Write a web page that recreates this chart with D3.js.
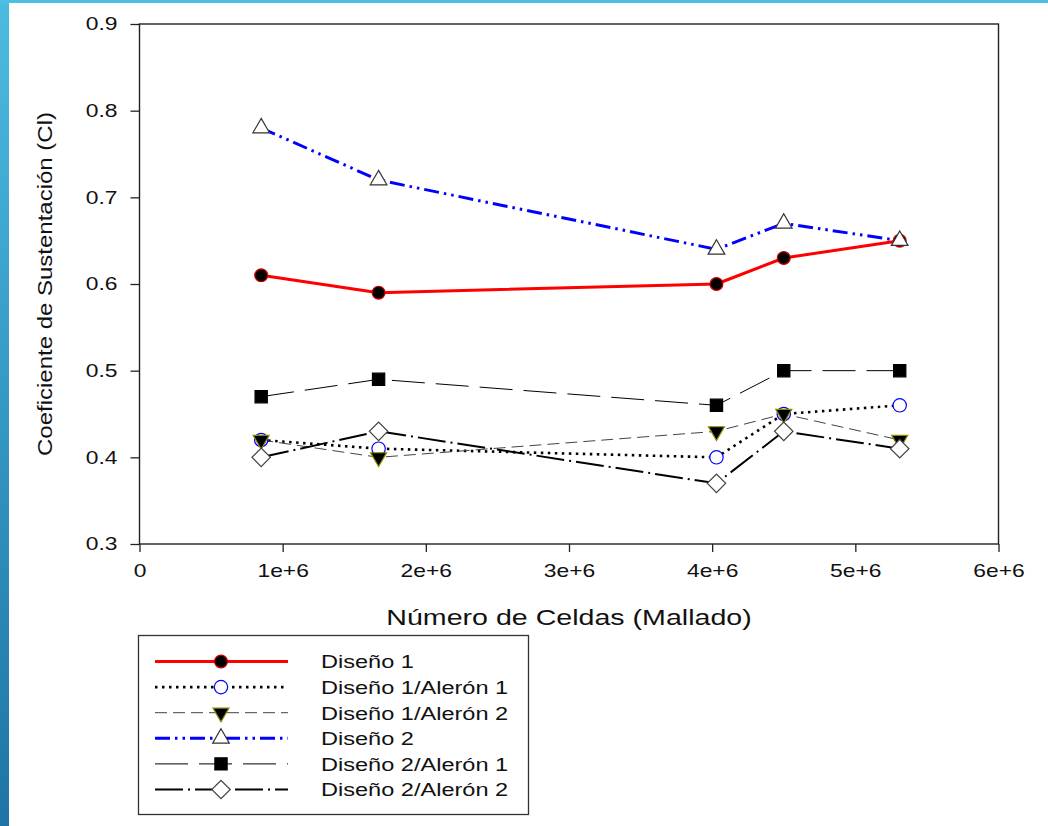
<!DOCTYPE html>
<html>
<head>
<meta charset="utf-8">
<script src="https://cdn.jsdelivr.net/npm/d3@7"></script>
<style>
  html, body { margin: 0; padding: 0; background: #fff; }
  svg { display: block; font-family: Arial, "Liberation Sans", sans-serif; }
</style>
</head>
<body>
<svg id="chart" width="1048" height="826"></svg>
<script>
// Mesh sizes (number of cells) at which each design was evaluated
const cells = [0.85e6, 1.67e6, 4.03e6, 4.5e6, 5.31e6];

// Lift coefficient (Cl) per design
const diseno1         = [0.61, 0.59, 0.60, 0.63, 0.65];
const diseno1Aleron1  = [0.42, 0.41, 0.40, 0.45, 0.46];
const diseno1Aleron2  = [0.42, 0.40, 0.43, 0.45, 0.42];
const diseno2         = [0.78, 0.72, 0.64, 0.67, 0.65];
const diseno2Aleron1  = [0.47, 0.49, 0.46, 0.50, 0.50];
const diseno2Aleron2  = [0.40, 0.43, 0.37, 0.43, 0.41];

const xTicks = [0, 1e6, 2e6, 3e6, 4e6, 5e6, 6e6];
const xTickLabels = ["0", "1e+6", "2e+6", "3e+6", "4e+6", "5e+6", "6e+6"];
const yTicks = [0.3, 0.4, 0.5, 0.6, 0.7, 0.8, 0.9];

const series = [
  { name: "Diseño 1", values: diseno1, stroke: "#ff0000", width: 3, dash: null,
    marker: "circle", fill: "#000", mstroke: "#d00000", size: 130 },
  { name: "Diseño 1/Alerón 1", values: diseno1Aleron1, stroke: "#000", width: 2.6, dash: "2.5,4.5",
    marker: "circle", fill: "#fff", mstroke: "#0000ff", size: 140 },
  { name: "Diseño 1/Alerón 2", values: diseno1Aleron2, stroke: "#444", width: 1, dash: "12,6",
    marker: "triangleDown", fill: "#000", mstroke: "#8a8a00", size: 110 },
  { name: "Diseño 2", values: diseno2, stroke: "#0000ff", width: 3, dash: "15,5,2.5,5,2.5,5",
    marker: "triangle", fill: "#fff", mstroke: "#333", size: 120 },
  { name: "Diseño 2/Alerón 1", values: diseno2Aleron1, stroke: "#000", width: 1, dash: "33,11",
    marker: "square", fill: "#000", mstroke: "#000", size: 150 },
  { name: "Diseño 2/Alerón 2", values: diseno2Aleron2, stroke: "#000", width: 2, dash: "28,5,2,5",
    marker: "diamond", fill: "#fff", mstroke: "#444", size: 170 }
];

// Text in this figure is set in a horizontally widened sans face
const WIDE = 1.27;

const svg = d3.select("#chart");

// Background accents: blue bars on the left and top edges
const grad = svg.append("defs").append("linearGradient")
  .attr("id", "edge").attr("x1", 0).attr("y1", 0).attr("x2", 0).attr("y2", 1);
grad.append("stop").attr("offset", "0%").attr("stop-color", "#4cbbe0");
grad.append("stop").attr("offset", "100%").attr("stop-color", "#1e74a6");
svg.append("rect").attr("x", 0).attr("y", 0).attr("width", 9).attr("height", 826).attr("fill", "url(#edge)");
svg.append("rect").attr("x", 0).attr("y", 0).attr("width", 1048).attr("height", 3).attr("fill", "#4dbfe2");

const x = d3.scaleLinear().domain([0, 6e6]).range([139.5, 998.5]);
const y = d3.scaleLinear().domain([0.3, 0.9]).range([544, 24]);

// Axes
const xAxis = d3.axisBottom(x).tickValues(xTicks)
  .tickFormat((d, i) => xTickLabels[i]).tickSize(8).tickPadding(12);
const yAxis = d3.axisLeft(y).tickValues(yTicks)
  .tickFormat(d3.format(".1f")).tickSize(9).tickPadding(13);

const gx = svg.append("g").attr("transform", `translate(0,${y(0.3)})`).call(xAxis);
const gy = svg.append("g").attr("transform", `translate(${x(0)},0)`).call(yAxis);
[gx, gy].forEach(g => {
  g.select(".domain").remove();
  g.selectAll("line").attr("stroke", "#222").attr("stroke-width", 1.3);
  g.selectAll("text").attr("fill", "#111")
    .attr("font-size", 18)
    .style("font-family", "Arial, 'Liberation Sans', sans-serif")
    .each(function () {
      const t = d3.select(this);
      const tx = +t.attr("x") || 0;
      t.attr("x", tx / WIDE).attr("transform", `scale(${WIDE},1)`);
    });
});

// Plot frame
svg.append("rect")
  .attr("x", x(0)).attr("y", y(0.9))
  .attr("width", x(6e6) - x(0)).attr("height", y(0.3) - y(0.9))
  .attr("fill", "none").attr("stroke", "#222").attr("stroke-width", 1.4);

// Axis titles
svg.append("text")
  .attr("transform", `translate(${(x(0) + x(6e6)) / 2},625) scale(1.3,1)`)
  .attr("text-anchor", "middle").attr("font-size", 22).attr("fill", "#111")
  .text("Número de Celdas (Mallado)");
svg.append("text")
  .attr("transform", `translate(52,${(y(0.3) + y(0.9)) / 2}) rotate(-90) scale(1.2,1)`)
  .attr("text-anchor", "middle").attr("font-size", 20).attr("fill", "#111")
  .text("Coeficiente de Sustentación (Cl)");

const symbolTypes = {
  circle: d3.symbolCircle,
  triangle: d3.symbolTriangle,
  triangleDown: d3.symbolTriangle,
  square: d3.symbolSquare,
  diamond: d3.symbolSquare
};
function markerPath(s) {
  return d3.symbol().type(symbolTypes[s.marker]).size(s.size)();
}
function markerRotation(s) {
  if (s.marker === "triangleDown") return 180;
  if (s.marker === "diamond") return 45;
  return 0;
}

const line = d3.line().x((d, i) => x(cells[i])).y(d => y(d));

// Lines
series.forEach(s => {
  svg.append("path")
    .datum(s.values)
    .attr("d", line)
    .attr("fill", "none")
    .attr("stroke", s.stroke)
    .attr("stroke-width", s.width)
    .attr("stroke-dasharray", s.dash)
    .attr("stroke-linejoin", "round");
});

// Markers
series.forEach(s => {
  svg.append("g").selectAll("path")
    .data(s.values)
    .join("path")
    .attr("d", markerPath(s))
    .attr("transform", (d, i) => `translate(${x(cells[i])},${y(d)}) rotate(${markerRotation(s)})`)
    .attr("fill", s.fill)
    .attr("stroke", s.mstroke)
    .attr("stroke-width", 1.2);
});

// Legend
const legend = svg.append("g");
legend.append("rect")
  .attr("x", 138.5).attr("y", 635.5).attr("width", 390).attr("height", 179)
  .attr("fill", "#fff").attr("stroke", "#333").attr("stroke-width", 1.3);
const rowY = d3.scaleLinear().domain([0, 5]).range([661.5, 789.5]);
series.forEach((s, i) => {
  const yy = rowY(i);
  legend.append("line")
    .attr("x1", 155).attr("x2", 288).attr("y1", yy).attr("y2", yy)
    .attr("stroke", s.stroke).attr("stroke-width", s.width)
    .attr("stroke-dasharray", s.dash);
  legend.append("path")
    .attr("d", markerPath(s))
    .attr("transform", `translate(221,${yy}) rotate(${markerRotation(s)})`)
    .attr("fill", s.fill).attr("stroke", s.mstroke).attr("stroke-width", 1.2);
  legend.append("text")
    .attr("transform", `translate(321,${yy}) scale(1.24,1)`)
    .attr("dy", "0.36em")
    .attr("font-size", 19).attr("fill", "#111")
    .text(s.name);
});
</script>
</body>
</html>
